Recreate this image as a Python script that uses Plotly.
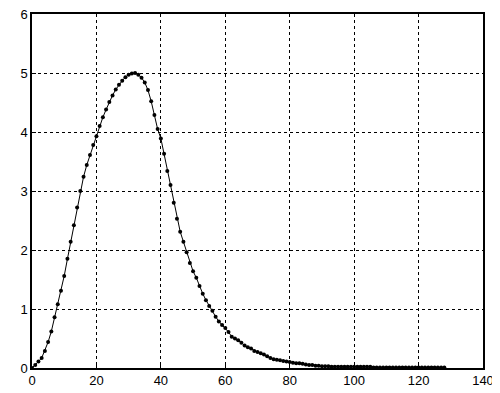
import plotly.graph_objects as go

x_vals = list(range(0, 129))
y_vals = [
    0.00, 0.05, 0.11, 0.17, 0.29, 0.44, 0.62, 0.86, 1.08, 1.31,
    1.56, 1.85, 2.14, 2.42, 2.72, 3.00, 3.24, 3.44, 3.61, 3.78,
    3.93, 4.10, 4.25, 4.38, 4.51, 4.62, 4.72, 4.80, 4.87, 4.93,
    4.97, 4.99, 5.00, 4.97, 4.92, 4.84, 4.71, 4.52, 4.29, 4.05,
    3.89, 3.63, 3.34, 3.10, 2.80, 2.53, 2.31, 2.14, 1.96, 1.78,
    1.64, 1.53, 1.39, 1.26, 1.15, 1.05, 0.97, 0.87, 0.79, 0.73,
    0.68, 0.61, 0.53, 0.50, 0.47, 0.43, 0.38, 0.35, 0.33, 0.29,
    0.27, 0.25, 0.23, 0.20, 0.17, 0.15, 0.14, 0.13, 0.12, 0.11,
    0.10, 0.09, 0.08, 0.08, 0.07, 0.06, 0.05, 0.05, 0.04, 0.04,
    0.03, 0.03, 0.03, 0.02, 0.02, 0.02, 0.02, 0.02, 0.02, 0.02,
    0.02, 0.02, 0.02, 0.02, 0.02, 0.02, 0.01, 0.01, 0.01, 0.01,
    0.01, 0.01, 0.01, 0.01, 0.01, 0.01, 0.01, 0.01, 0.01, 0.01,
    0.01, 0.01, 0.01, 0.01, 0.01, 0.01, 0.01, 0.01, 0.01,
]

x_ticks = [0, 20, 40, 60, 80, 100, 120, 140]
y_ticks = [0, 1, 2, 3, 4, 5, 6]

fig = go.Figure()
fig.add_trace(go.Scatter(
    x=x_vals, y=y_vals, mode="lines+markers",
    line=dict(color="black", width=1),
    marker=dict(color="black", size=4, symbol="circle"),
    showlegend=False, cliponaxis=False,
))

axis_common = dict(
    showline=True, linecolor="black", linewidth=1.5, mirror=True,
    showgrid=True, gridcolor="black", gridwidth=1, griddash="3px,3px",
    zeroline=False, ticks="inside", ticklen=4, tickcolor="black",
    automargin=False, ticklabeloverflow="allow",
    tickfont=dict(family="Liberation Sans, Arial, sans-serif", size=13, color="black"),
)

fig.update_xaxes(range=[0, 140], tickvals=x_ticks, ticktext=[str(t) for t in x_ticks], **axis_common)
fig.update_yaxes(range=[0, 6], tickvals=y_ticks, ticktext=[str(t) for t in y_ticks], **axis_common)

# page body adds an 8px offset, so the figure is sized to fit the 500x393 window
fig.update_layout(
    width=492, height=385,
    margin=dict(l=24, r=17, t=6, b=25),
    paper_bgcolor="white", plot_bgcolor="white",
)

fig.write_html("out.html")
